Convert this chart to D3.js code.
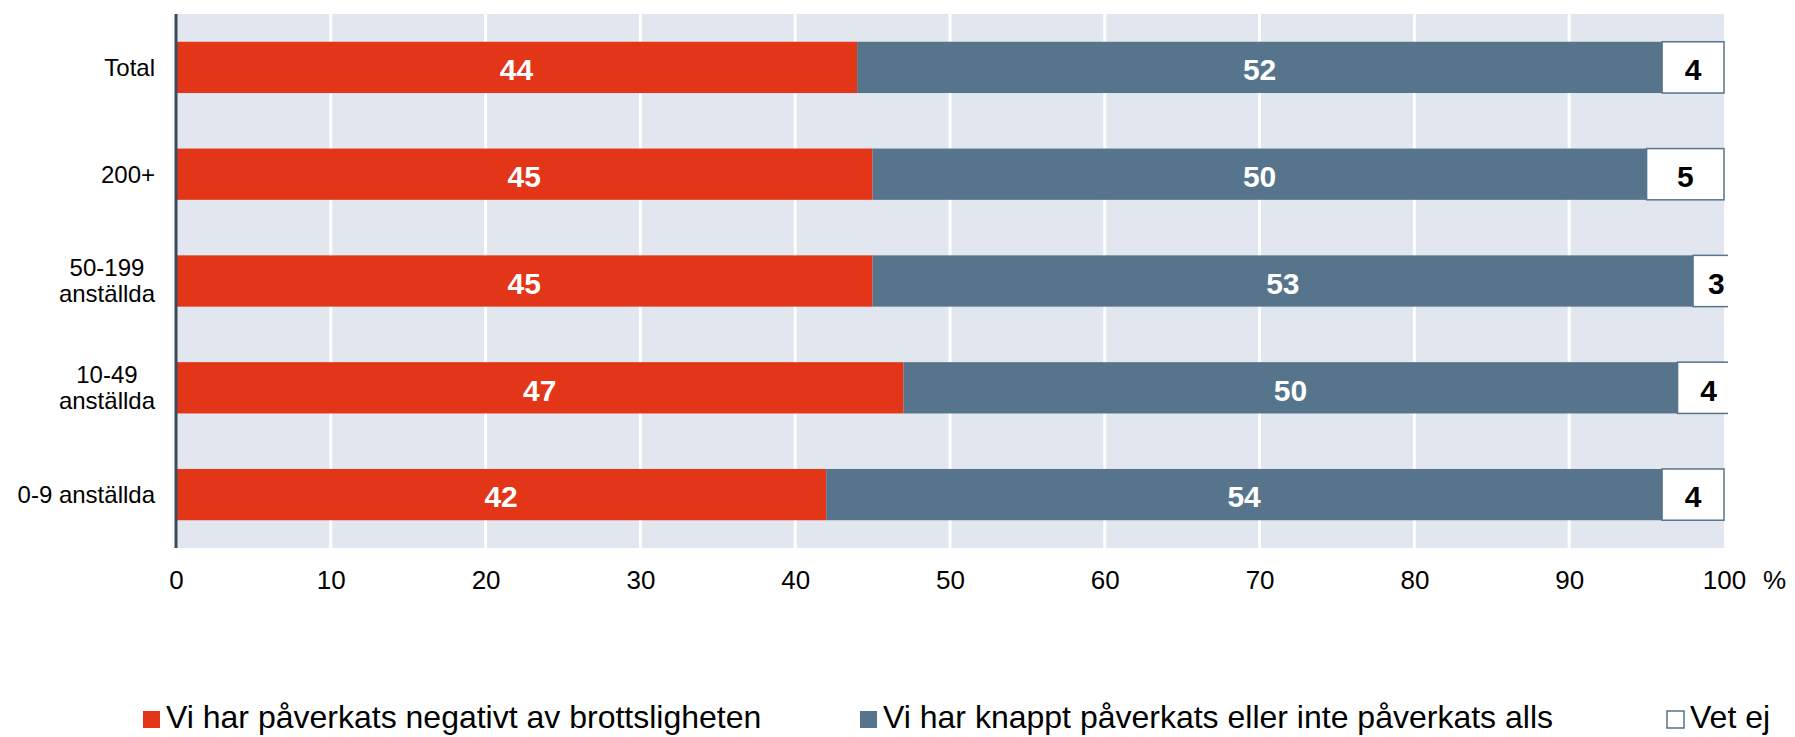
<html>
<head>
<meta charset="utf-8">
<style>
body { margin:0; background:#ffffff; }
svg { font-family: "Liberation Sans", Arial, sans-serif; }
</style>
<script src="https://cdn.jsdelivr.net/npm/d3@7"></script>
</head>
<body>
<svg id="chart" width="1795" height="737"></svg>
<script>
// data
var categories = ["Total", "200+", "50-199\nanställda", "10-49\nanställda", "0-9 anställda"];
var negativ = [44, 45, 45, 47, 42];
var knappt = [52, 50, 53, 50, 54];
var vetEj = [4, 5, 3, 4, 4];
var seriesNames = ["Vi har påverkats negativt av brottsligheten", "Vi har knappt påverkats eller inte påverkats alls", "Vet ej"];
var xTicks = [0, 10, 20, 30, 40, 50, 60, 70, 80, 90, 100];

var red = "#e33518", blue = "#56748c";
var svg = d3.select("#chart");

var xScale = d3.scaleLinear().domain([0, 100]).range([176, 1724]);
var yScale = d3.scaleBand().domain(categories).range([14, 548]).paddingInner(0.52).paddingOuter(0.26);

// plot background
svg.append("rect").attr("x", xScale(0)).attr("y", 14).attr("width", xScale(100) - xScale(0)).attr("height", 534).attr("fill", "#e2e7ef");

// gridlines
svg.append("g").selectAll("line").data(xTicks.filter(function(d) { return d > 0 && d < 100; })).enter().append("line")
	.attr("x1", function(d) { return xScale(d); }).attr("x2", function(d) { return xScale(d); })
	.attr("y1", 14).attr("y2", 548).attr("stroke", "#ffffff").attr("stroke-width", 3);

// stack rows
var rows = categories.map(function(c, i) {
	return {cat: c, segs: [
		{x0: 0, x1: negativ[i], v: negativ[i], fill: red, stroke: "none", txt: "#ffffff"},
		{x0: negativ[i], x1: negativ[i] + knappt[i], v: knappt[i], fill: blue, stroke: "none", txt: "#ffffff"},
		{x0: negativ[i] + knappt[i], x1: negativ[i] + knappt[i] + vetEj[i], v: vetEj[i], fill: "#ffffff", stroke: blue, txt: "#000000"}
	]};
});

svg.append("clipPath").attr("id", "clip").append("rect")
	.attr("x", xScale(0)).attr("y", 0).attr("width", xScale(100) - xScale(0) + 4).attr("height", 737);

var row = svg.append("g").attr("clip-path", "url(#clip)").selectAll("g").data(rows).enter().append("g");
row.selectAll("rect").data(function(d) { return d.segs.map(function(s) { s.cat = d.cat; return s; }); }).enter().append("rect")
	.attr("x", function(d) { return xScale(d.x0); })
	.attr("y", function(d) { return yScale(d.cat); })
	.attr("width", function(d) { return xScale(d.x1) - xScale(d.x0); })
	.attr("height", yScale.bandwidth())
	.attr("fill", function(d) { return d.fill; })
	.attr("stroke", function(d) { return d.stroke; })
	.attr("stroke-width", 1.5);

// value labels
row.selectAll("text").data(function(d) { return d.segs; }).enter().append("text")
	.attr("x", function(d) { return xScale((d.x0 + d.x1) / 2); })
	.attr("y", function(d) { return yScale(d.cat) + yScale.bandwidth() / 2 + 2; })
	.attr("dy", "0.36em")
	.attr("text-anchor", "middle")
	.attr("font-size", 30).attr("font-weight", "bold")
	.attr("fill", function(d) { return d.txt; })
	.text(function(d) { return d.v; });

// left axis line
svg.append("line").attr("x1", xScale(0)).attr("x2", xScale(0)).attr("y1", 14).attr("y2", 548)
	.attr("stroke", "#3b4a5a").attr("stroke-width", 3);

// category labels
categories.forEach(function(c) {
	var lines = c.split("\n");
	var cy = yScale(c) + yScale.bandwidth() / 2;
	var t = svg.append("text").attr("font-size", 24).attr("fill", "#000000");
	if (lines.length == 1) {
		t.attr("x", 155).attr("y", cy).attr("dy", "0.35em").attr("text-anchor", "end").text(c);
	} else {
		t.attr("text-anchor", "middle");
		lines.forEach(function(l, k) {
			t.append("tspan").attr("y", cy - 13 + k * 26).attr("dy", "0.35em").text(l);
		});
		var widths = [];
		t.selectAll("tspan").each(function() { widths.push(this.getComputedTextLength()); });
		t.selectAll("tspan").attr("x", 155 - d3.max(widths) / 2);
	}
});

// x axis
var xAxis = d3.axisBottom(xScale).tickValues(xTicks).tickSize(0).tickPadding(0);
var ax = svg.append("g").attr("transform", "translate(0,570)").call(xAxis);
ax.select(".domain").remove();
ax.selectAll("text").attr("font-size", 26).attr("font-family", "'Liberation Sans', Arial, sans-serif").attr("fill", "#000000").attr("dy", "0.72em");
svg.append("text").attr("x", 1763).attr("y", 589).attr("font-size", 26).attr("fill", "#000000").text("%");

// legend
var legendX = [143, 860, 1667];
var legendFill = [red, blue, "#ffffff"];
var legendStroke = ["none", "none", blue];
seriesNames.forEach(function(name, i) {
	var g = svg.append("g").attr("transform", "translate(" + legendX[i] + ",711)");
	g.append("rect").attr("width", 17).attr("height", 17).attr("fill", legendFill[i])
		.attr("stroke", legendStroke[i]).attr("stroke-width", 1.5);
	g.append("text").attr("x", 23).attr("y", 17).attr("font-size", 32).attr("fill", "#000000").text(name);
});
</script>
</body>
</html>
